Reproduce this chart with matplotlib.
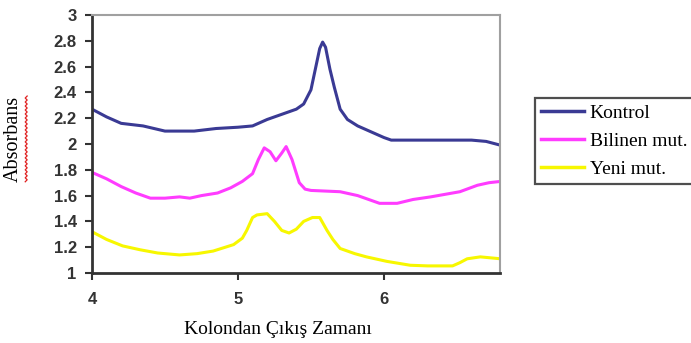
import numpy as np
import matplotlib.pyplot as plt
from matplotlib.lines import Line2D

# elution time and absorbance readings for the three samples
kontrol_t = [4.00, 4.10, 4.20, 4.35, 4.50, 4.70, 4.85, 5.00, 5.10, 5.20, 5.30, 5.40,
             5.45, 5.50, 5.53, 5.56, 5.58, 5.60, 5.63, 5.66, 5.70, 5.75, 5.82, 5.90,
             6.00, 6.05, 6.30, 6.60, 6.70, 6.80]
kontrol_a = [2.27, 2.21, 2.16, 2.14, 2.10, 2.10, 2.12, 2.13, 2.14, 2.19, 2.23, 2.27,
             2.31, 2.42, 2.58, 2.74, 2.79, 2.75, 2.58, 2.44, 2.27, 2.19, 2.14, 2.10,
             2.05, 2.03, 2.03, 2.03, 2.02, 1.99]

bilinen_t = [4.00, 4.10, 4.20, 4.30, 4.40, 4.50, 4.60, 4.67, 4.75, 4.86, 4.95, 5.03,
             5.10, 5.14, 5.18, 5.22, 5.26, 5.30, 5.33, 5.37, 5.42, 5.46, 5.50, 5.70,
             5.82, 5.97, 6.09, 6.20, 6.32, 6.52, 6.64, 6.72, 6.80]
bilinen_a = [1.78, 1.73, 1.67, 1.62, 1.58, 1.58, 1.59, 1.58, 1.60, 1.62, 1.66, 1.71,
             1.77, 1.88, 1.97, 1.94, 1.87, 1.93, 1.98, 1.88, 1.70, 1.65, 1.64, 1.63,
             1.60, 1.54, 1.54, 1.57, 1.59, 1.63, 1.68, 1.70, 1.71]

yeni_t = [4.00, 4.10, 4.21, 4.33, 4.45, 4.60, 4.72, 4.83, 4.97, 5.03, 5.06, 5.10,
          5.13, 5.20, 5.25, 5.30, 5.35, 5.40, 5.45, 5.51, 5.56, 5.61, 5.65, 5.70,
          5.80, 5.88, 6.02, 6.18, 6.30, 6.47, 6.52, 6.57, 6.66, 6.80]
yeni_a = [1.32, 1.26, 1.21, 1.18, 1.155, 1.14, 1.15, 1.17, 1.22, 1.27, 1.33, 1.43,
          1.45, 1.46, 1.40, 1.33, 1.31, 1.34, 1.40, 1.43, 1.43, 1.33, 1.26, 1.19,
          1.15, 1.125, 1.09, 1.06, 1.055, 1.055, 1.08, 1.11, 1.125, 1.11]

etiketler = ['Kontrol', 'Bilinen mut.', 'Yeni mut.']
renkler = ['#3a3a94', '#ff3cff', '#f7f700']

x_ticks = [4, 5, 6]
y_ticks = [1, 1.2, 1.4, 1.6, 1.8, 2, 2.2, 2.4, 2.6, 2.8, 3]
y_tick_labels = ['1', '1.2', '1.4', '1.6', '1.8', '2', '2.2', '2.4', '2.6', '2.8', '3']

fig = plt.figure(figsize=(6.91, 3.43), dpi=100)
ax = fig.add_axes([0.1331, 0.2041, 0.5905, 0.7522])

seriler = [(kontrol_t, kontrol_a), (bilinen_t, bilinen_a), (yeni_t, yeni_a)]
for (t, a), etiket, renk in zip(seriler, etiketler, renkler):
    ax.plot(t, a, color=renk, lw=2.2, label=etiket, solid_joinstyle='round')

ax.set_xlim(4, 6.795)
ax.set_ylim(1, 3)
ax.set_xticks(x_ticks)
ax.set_yticks(y_ticks)
ax.set_yticklabels(y_tick_labels)

tick_font = dict(family='Liberation Sans', weight='bold', size=12)
for lbl in ax.get_xticklabels() + ax.get_yticklabels():
    lbl.set_fontproperties(tick_font)
    lbl.set_color('#333333')

ax.tick_params(axis='y', direction='out', length=5, width=1.5, color='#333333', pad=6)
ax.tick_params(axis='x', direction='out', length=5, width=1.5, color='#333333', pad=9)

for s in ['left', 'bottom']:
    ax.spines[s].set_color('#333333')
    ax.spines[s].set_linewidth(2)
for s in ['top', 'right']:
    ax.spines[s].set_color('#a0a0a0')
    ax.spines[s].set_linewidth(1.5)

ax.set_xlabel('Kolondan Çıkış Zamanı', family='Liberation Serif', size=14)
ax.xaxis.set_label_coords(0.456, -0.185)
ax.set_ylabel('Absorbans', family='Liberation Serif', size=14.5)
ax.yaxis.set_label_coords(-0.17, 0.52)

# red wavy underline beside the rotated y label
zy = np.linspace(0.47, 0.72, 44)
zx = 0.0365 + 0.0028 * (np.arange(44) % 2)
fig.add_artist(Line2D(zx, zy, color='#e02020', lw=0.9, transform=fig.transFigure))

leg = ax.legend(loc='upper left', bbox_to_anchor=(1.086, 0.678), frameon=True,
                fancybox=False, prop=dict(family='Liberation Serif', size=14),
                handlelength=2.2, handletextpad=0.3, labelspacing=0.55,
                borderpad=0.3, borderaxespad=0)
leg.get_frame().set_edgecolor('#222222')
leg.get_frame().set_linewidth(1.6)
for h in leg.get_lines():
    h.set_linewidth(2.5)

fig.savefig('out.png', dpi=100)
